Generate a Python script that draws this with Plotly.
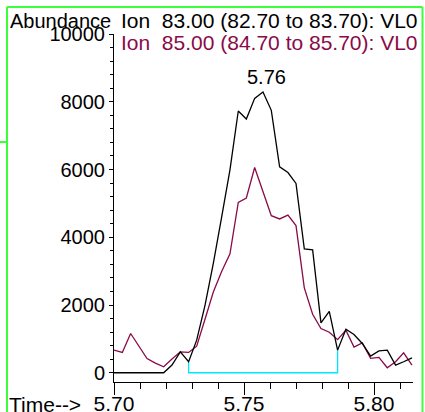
import plotly.graph_objects as go

# Retention time (min)
times = [5.7000, 5.7032, 5.7064, 5.7096, 5.7127, 5.7159, 5.7191, 5.7223, 5.7255,
         5.7287, 5.7318, 5.7350, 5.7382, 5.7414, 5.7446, 5.7478, 5.7509, 5.7541,
         5.7573, 5.7605, 5.7637, 5.7669, 5.7700, 5.7732, 5.7764, 5.7796, 5.7828,
         5.7860, 5.7892, 5.7923, 5.7955, 5.7987, 5.8019, 5.8051, 5.8083, 5.8114,
         5.8146]

# Ion 83.00 abundance (black)
ion83 = [0, 0, 0, 0, 0, 0, 0, 226, 618, 324, 962, 1990, 3226, 4594, 5991, 7726,
         7491, 8100, 8285, 7747, 6079, 5911, 5588, 3659, 3629, 1471, 1815, 668,
         1285, 1129, 865, 491, 647, 668, 226, 324, 441]

# Ion 85.00 abundance (maroon)
ion85 = [668, 600, 1159, 785, 418, 285, 176, 403, 618, 600, 785, 1579, 2382, 2991,
         3512, 5029, 5159, 6059, 5344, 4638, 4541, 4653, 4344, 2506, 1726, 1306,
         1197, 976, 1256, 756, 882, 424, 453, 147, 324, 588, 226]

# Integration baseline (start index, end index)
int_start, int_end = 9, 27

peak_label = "5.76"
peak_index = 18

legend_lines = ["Ion  83.00 (82.70 to 83.70): VL0", "Ion  85.00 (84.70 to 85.70): VL0"]
ytick_vals = [0, 2000, 4000, 6000, 8000, 10000]
ytick_text = ["0", "2000", "4000", "6000", "8000", "10000"]
xtick_vals = [5.70, 5.75, 5.80]
xtick_text = ["5.70", "5.75", "5.80"]

W, H = 425, 412
L, R, T, B = 114, 413, 34, 382
FONT = "Liberation Sans, Arial, sans-serif"
MAROON = "#8a0a48"


def px(x):
    return (x - L) / (R - L)


def py(y):
    return (B - y) / (B - T)


fig = go.Figure()
fig.add_trace(go.Scatter(
    x=[times[int_start], times[int_start], times[int_end], times[int_end]],
    y=[ion83[int_start], 0, 0, ion83[int_end]],
    mode="lines", line=dict(color="#00e5ff", width=1.3), hoverinfo="skip"))
fig.add_trace(go.Scatter(x=times, y=ion85, mode="lines",
                         line=dict(color=MAROON, width=1.3)))
fig.add_trace(go.Scatter(x=times, y=ion83, mode="lines",
                         line=dict(color="black", width=1.3)))

fig.add_annotation(x=times[peak_index], y=ion83[peak_index], text=peak_label,
                   showarrow=False, xanchor="center", yanchor="bottom",
                   xshift=4, yshift=2, font=dict(size=20, color="black", family=FONT))

fig.add_annotation(xref="paper", yref="paper", x=px(8), y=py(20.5), text="Abundance",
                   showarrow=False, xanchor="left", yanchor="middle",
                   font=dict(size=20, color="black", family=FONT))
fig.add_annotation(xref="paper", yref="paper", x=px(119), y=py(20.5), text=legend_lines[0],
                   showarrow=False, xanchor="left", yanchor="middle",
                   font=dict(size=21, color="black", family=FONT))
fig.add_annotation(xref="paper", yref="paper", x=px(119), y=py(42.5), text=legend_lines[1],
                   showarrow=False, xanchor="left", yanchor="middle",
                   font=dict(size=21, color=MAROON, family=FONT))
fig.add_annotation(xref="paper", yref="paper", x=px(7), y=py(404), text="Time-->",
                   showarrow=False, xanchor="left", yanchor="middle",
                   font=dict(size=21, color="black", family=FONT))

GREEN = "#3cff3c"
for x0, y0, x1, y1 in [(7, 7, 422.5, 7), (7, 7, 7, 420), (422.5, 7, 422.5, 420), (0, 142, 7, 142)]:
    fig.add_shape(type="line", xref="paper", yref="paper",
                  x0=px(x0), y0=py(y0), x1=px(x1), y1=py(y1),
                  line=dict(color=GREEN, width=2))

fig.update_layout(
    width=W, height=H, showlegend=False,
    margin=dict(l=L, r=W - R, t=T, b=H - B, pad=0, autoexpand=False),
    paper_bgcolor="white", plot_bgcolor="white",
    font=dict(family=FONT, size=20, color="black"),
)
fig.update_xaxes(range=[5.70, 5.70 + (R - L) / 2600.0], tickmode="array",
                 tickvals=xtick_vals, ticktext=xtick_text, automargin=False,
                 ticks="outside", ticklen=12, tickwidth=1, tickcolor="black",
                 ticklabelstandoff=-9,
                 showline=True, linecolor="black", linewidth=1,
                 showgrid=False, zeroline=False,
                 minor=dict(dtick=0.01, tick0=5.70, ticks="outside", ticklen=6,
                            tickwidth=1, tickcolor="black", showgrid=False),
                 tickfont=dict(size=21, family=FONT))
fig.update_yaxes(range=[-273, 10000], tickmode="array", tickvals=ytick_vals,
                 ticktext=ytick_text, automargin=False,
                 ticks="outside", ticklen=4, tickwidth=1, tickcolor="black",
                 showline=True, linecolor="black", linewidth=1,
                 showgrid=False, zeroline=False,
                 minor=dict(dtick=400, tick0=0, ticks="outside", ticklen=3,
                            tickwidth=1, tickcolor="black", showgrid=False),
                 tickfont=dict(size=20, family=FONT))

fig.write_html("out.html", config={"displayModeBar": False},
               post_script="document.body.style.margin='0';document.body.style.overflow='hidden';")
